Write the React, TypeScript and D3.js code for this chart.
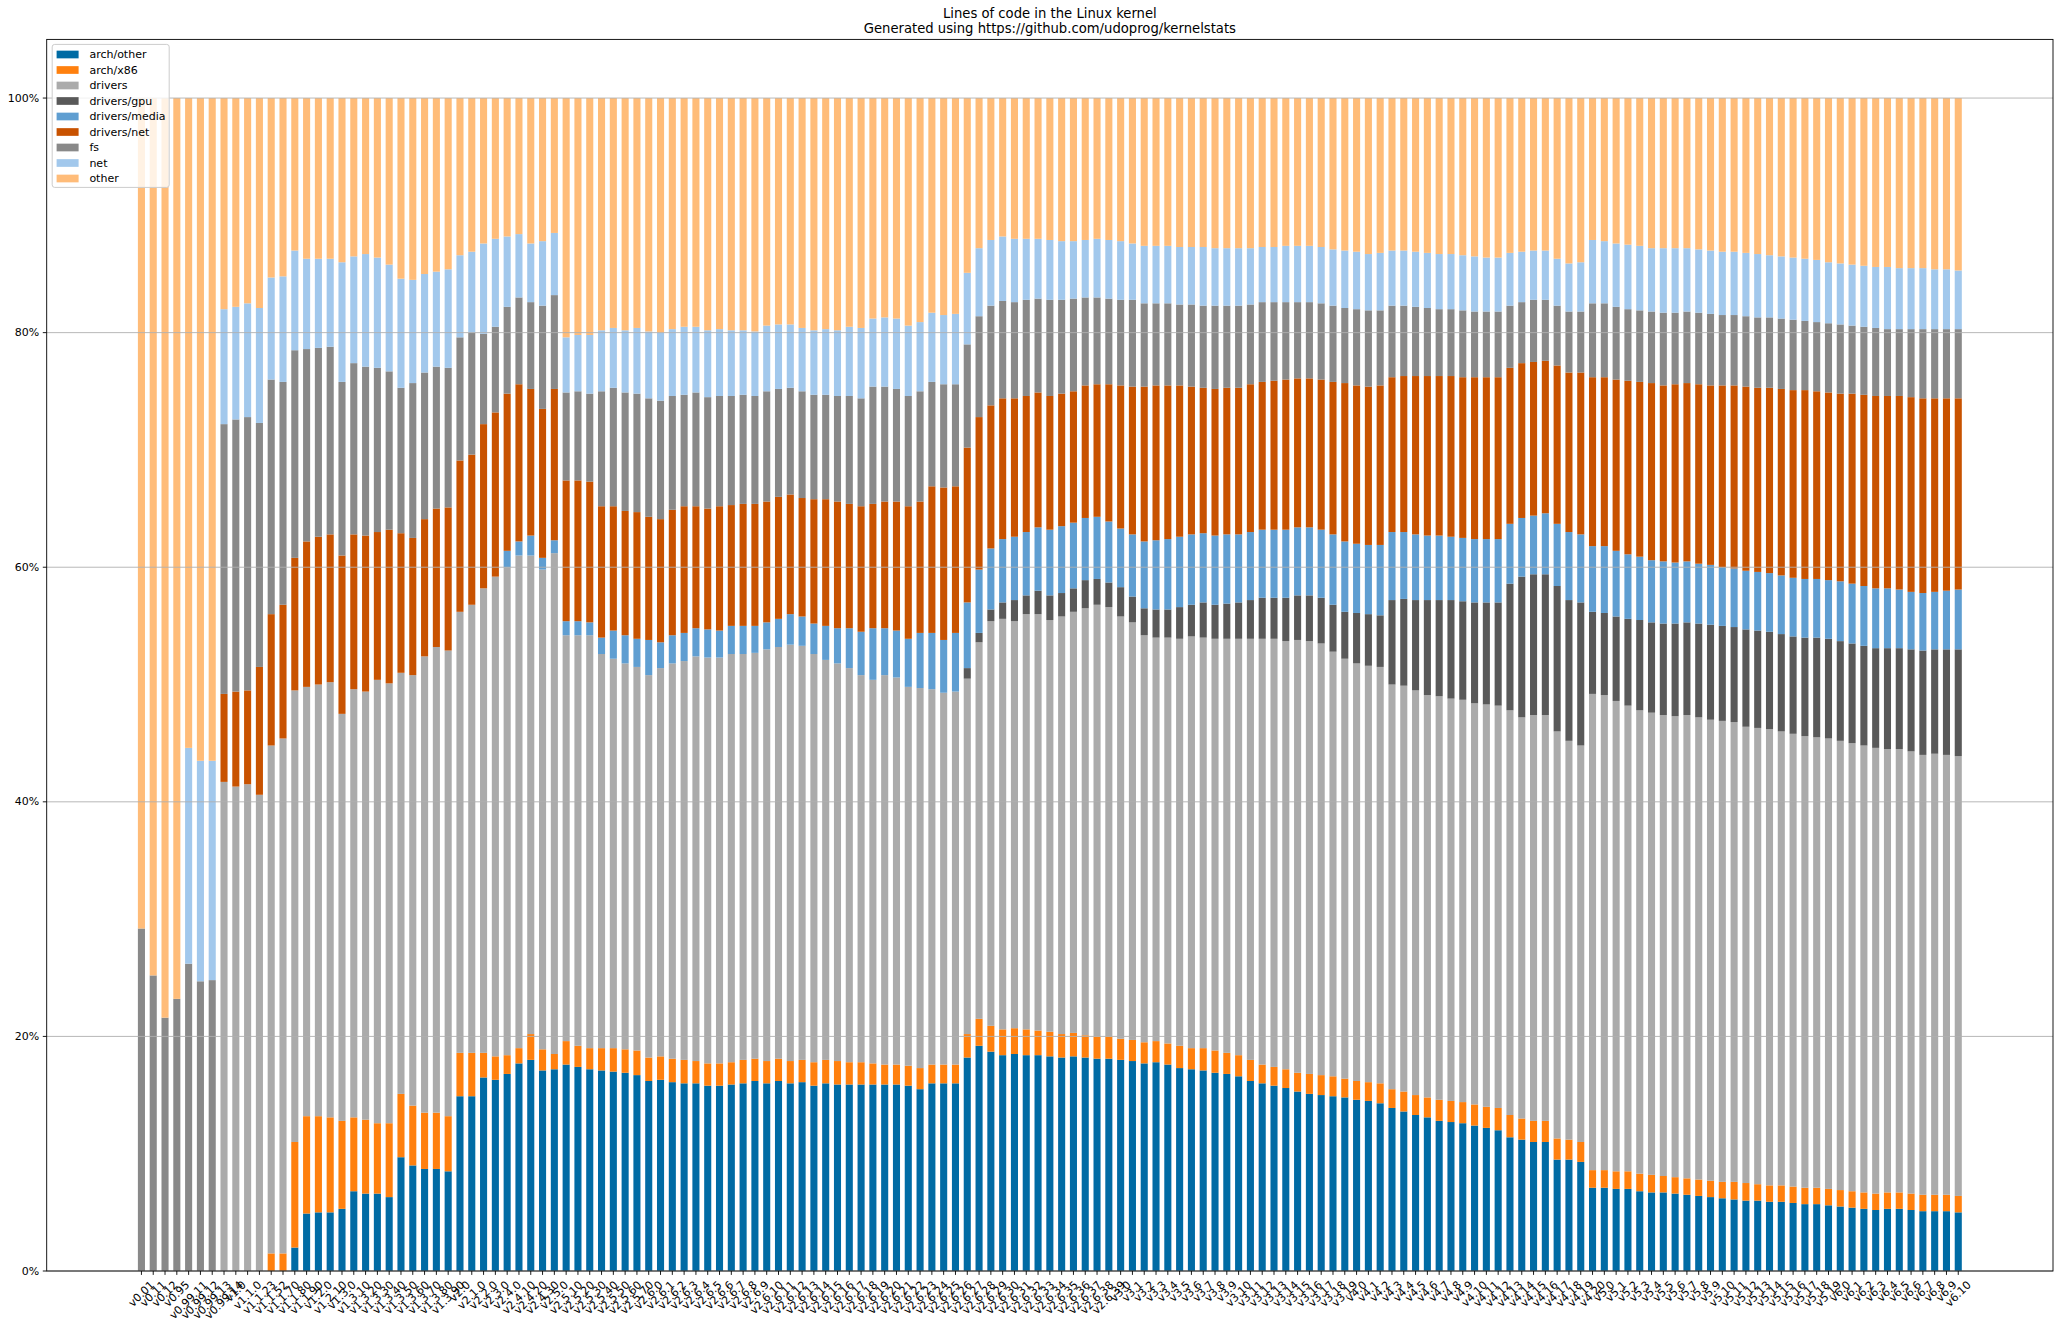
import React from "react";
import * as d3 from "d3";

const versions = [
  "v0.01","v0.11","v0.12","v0.95","v0.99.11","v0.99.12","v0.99.13","v0.99.14","v1.0","v1.1.0",
  "v1.1.23","v1.1.52","v1.1.70","v1.1.80","v1.1.90","v1.2.0","v1.2.10","v1.3.0","v1.3.10","v1.3.20",
  "v1.3.30","v1.3.40","v1.3.50","v1.3.60","v1.3.70","v1.3.80","v1.3.90","v2.0","v2.1.0","v2.2.0",
  "v2.3.0","v2.4.0","v2.4.10","v2.4.20","v2.4.30","v2.5.0","v2.5.10","v2.5.20","v2.5.30","v2.5.40",
  "v2.5.50","v2.5.60","v2.5.70","v2.6.0","v2.6.1","v2.6.2","v2.6.3","v2.6.4","v2.6.5","v2.6.6",
  "v2.6.7","v2.6.8","v2.6.9","v2.6.10","v2.6.11","v2.6.12","v2.6.13","v2.6.14","v2.6.15","v2.6.16",
  "v2.6.17","v2.6.18","v2.6.19","v2.6.20","v2.6.21","v2.6.22","v2.6.23","v2.6.24","v2.6.25","v2.6.26",
  "v2.6.27","v2.6.28","v2.6.29","v2.6.30","v2.6.31","v2.6.32","v2.6.33","v2.6.34","v2.6.35","v2.6.36",
  "v2.6.37","v2.6.38","v2.6.39","v3.0","v3.1","v3.2","v3.3","v3.4","v3.5","v3.6",
  "v3.7","v3.8","v3.9","v3.10","v3.11","v3.12","v3.13","v3.14","v3.15","v3.16",
  "v3.17","v3.18","v3.19","v4.0","v4.1","v4.2","v4.3","v4.4","v4.5","v4.6",
  "v4.7","v4.8","v4.9","v4.10","v4.11","v4.12","v4.13","v4.14","v4.15","v4.16",
  "v4.17","v4.18","v4.19","v4.20","v5.0","v5.1","v5.2","v5.3","v5.4","v5.5",
  "v5.6","v5.7","v5.8","v5.9","v5.10","v5.11","v5.12","v5.13","v5.14","v5.15",
  "v5.16","v5.17","v5.18","v5.19","v6.0","v6.1","v6.2","v6.3","v6.4","v6.5",
  "v6.6","v6.7","v6.8","v6.9","v6.10",
];

// percentage of lines per area, per version
const archOther = [
  0,0,0,0,0,0,0,0,0,0,
  0,0,0,2.0,4.9,5.0,5.0,5.3,6.8,6.6,
  6.6,6.3,9.7,9.0,8.7,8.7,8.5,14.9,14.9,16.5,
  16.3,16.8,17.7,18.0,17.1,17.2,17.6,17.4,17.2,17.1,
  17.0,16.9,16.7,16.2,16.3,16.1,16.0,16.0,15.8,15.8,
  15.9,16.0,16.2,16.0,16.2,16.0,16.1,15.8,16.0,15.9,
  15.9,15.9,15.9,15.9,15.9,15.8,15.5,16.0,16.0,16.0,
  18.2,19.2,18.7,18.4,18.5,18.4,18.4,18.3,18.2,18.3,
  18.2,18.1,18.1,18.0,17.9,17.7,17.8,17.6,17.3,17.2,
  17.1,16.9,16.8,16.6,16.2,16.0,15.8,15.6,15.3,15.1,
  15.0,14.9,14.8,14.6,14.5,14.3,13.9,13.6,13.3,13.1,
  12.8,12.7,12.6,12.4,12.2,12.0,11.4,11.2,11.0,11.0,
  9.5,9.5,9.3,7.1,7.1,7.0,7.0,6.8,6.7,6.7,
  6.6,6.5,6.4,6.3,6.2,6.1,6.0,6.0,5.9,5.9,
  5.8,5.7,5.7,5.6,5.5,5.4,5.3,5.2,5.3,5.3,
  5.2,5.1,5.1,5.1,5.0,
];

const archX86 = [
  0,0,0,0,0,0,0,0,0,0,
  0,1.5,1.5,9.0,8.3,8.2,8.1,7.5,6.3,6.3,
  6.0,6.3,5.4,5.1,4.8,4.8,4.7,3.7,3.7,2.1,
  2.0,1.6,1.3,2.2,1.8,1.3,2.0,1.8,1.8,1.9,
  2.0,2.0,2.1,2.0,2.0,2.0,2.0,1.9,1.9,1.9,
  1.9,2.0,1.9,1.9,1.9,1.9,1.9,2.0,2.0,2.0,
  1.9,1.9,1.8,1.7,1.7,1.7,1.8,1.6,1.6,1.6,
  2.0,2.3,2.2,2.2,2.2,2.2,2.1,2.1,2.0,2.0,
  1.9,1.9,1.9,1.8,1.8,1.8,1.8,1.8,1.9,1.8,
  1.9,1.9,1.8,1.8,1.8,1.6,1.6,1.6,1.6,1.7,
  1.7,1.7,1.6,1.6,1.6,1.7,1.6,1.7,1.7,1.7,
  1.8,1.8,1.8,1.8,1.8,1.9,1.9,1.8,1.8,1.8,
  1.8,1.7,1.7,1.5,1.5,1.5,1.5,1.5,1.5,1.4,
  1.4,1.4,1.4,1.4,1.4,1.5,1.5,1.4,1.4,1.4,
  1.4,1.4,1.4,1.4,1.4,1.4,1.4,1.4,1.4,1.4,
  1.4,1.4,1.4,1.4,1.4,
];

const drivers = [
  0,0,0,0,0,0,0,41.7,41.3,41.5,
  40.6,43.3,43.9,38.5,36.6,36.8,37.1,34.7,36.5,36.5,
  37.8,37.5,35.9,36.7,38.9,39.7,39.7,37.6,38.2,39.6,
  40.9,41.6,42.0,40.8,40.9,42.7,34.6,35.0,35.2,33.6,
  33.2,32.9,32.7,32.6,33.1,33.7,34.0,34.5,34.6,34.6,
  34.8,34.6,34.6,35.1,35.1,35.5,35.3,34.8,34.1,33.9,
  33.6,33.0,32.7,33.2,33.0,32.3,32.4,32.0,31.7,31.8,
  30.3,32.1,34.5,35.0,34.7,35.4,35.5,35.1,35.6,35.9,
  36.4,36.8,36.6,36.0,35.6,34.7,34.4,34.6,34.7,35.1,
  35.0,35.1,35.3,35.5,35.9,36.3,36.5,36.5,36.9,36.9,
  36.8,36.2,35.8,35.6,35.5,35.5,34.5,34.6,34.5,34.3,
  34.4,34.3,34.3,34.2,34.3,34.3,34.5,34.2,34.6,34.6,
  34.7,34.0,33.8,40.6,40.5,40.1,39.7,39.5,39.4,39.3,
  39.3,39.5,39.4,39.3,39.3,39.2,38.9,38.9,38.9,38.7,
  38.6,38.5,38.4,38.4,38.3,38.2,38.1,38.0,37.8,37.8,
  37.7,37.5,37.6,37.5,37.5,
];

const driversGpu = [
  0,0,0,0,0,0,0,0,0,0,
  0,0,0,0,0,0,0,0,0,0,
  0,0,0,0,0,0,0,0,0,0,
  0,0,0,0,0,0,0,0,0,0,
  0,0,0,0,0,0,0,0,0,0,
  0,0,0,0,0,0,0,0,0,0,
  0,0,0,0,0,0,0,0,0,0,
  0.9,0.8,1.0,1.4,1.8,1.6,2.0,2.1,2.0,2.0,
  2.4,2.2,2.1,2.5,2.2,2.3,2.4,2.4,2.7,2.7,
  3.0,2.9,3.0,3.1,3.3,3.5,3.5,3.7,3.8,3.9,
  3.9,4.0,4.0,4.3,4.4,4.4,7.2,7.4,7.7,8.1,
  8.2,8.4,8.4,8.6,8.7,8.8,10.8,12.0,12.0,12.0,
  12.4,12.0,12.2,7.0,7.0,7.2,7.4,7.7,7.7,7.8,
  7.9,7.9,8.0,8.1,8.1,8.1,8.3,8.3,8.3,8.3,
  8.3,8.4,8.5,8.5,8.5,8.5,8.5,8.5,8.6,8.6,
  8.7,8.9,8.9,9.0,9.1,
];

const driversMedia = [
  0,0,0,0,0,0,0,0,0,0,
  0,0,0,0,0,0,0,0,0,0,
  0,0,0,0,0,0,0,0,0,0,
  0,1.4,1.2,1.7,1.0,1.1,1.2,1.2,1.1,1.4,
  2.4,2.4,2.4,3.0,2.2,2.4,2.4,2.4,2.4,2.3,
  2.4,2.4,2.3,2.3,2.4,2.6,2.5,2.6,2.9,3.0,
  3.4,3.7,4.4,4.0,4.0,4.1,4.7,4.8,4.5,5.0,
  5.6,5.4,5.2,5.4,5.4,5.4,5.4,5.6,5.7,5.6,
  5.3,5.3,5.2,5.0,5.3,5.7,5.9,6.0,6.0,6.0,
  5.9,5.9,5.9,5.8,5.8,5.8,5.8,5.8,5.8,5.8,
  5.8,6.0,6.0,5.9,5.9,6.0,5.8,5.7,5.6,5.5,
  5.5,5.4,5.4,5.4,5.4,5.4,5.1,5.0,5.0,5.2,
  5.3,5.8,5.8,5.6,5.7,5.6,5.5,5.4,5.3,5.3,
  5.2,5.2,5.1,5.1,5.0,5.0,5.0,5.0,5.0,5.0,
  5.0,5.0,5.0,5.0,5.1,5.1,5.1,5.1,5.1,5.0,
  4.9,4.9,4.9,5.0,5.1,
];

const driversNet = [
  0,0,0,0,0,0,0,7.5,8.1,8.0,
  10.9,11.2,11.4,11.3,12.4,12.6,12.6,13.5,13.2,13.3,
  12.6,13.1,11.9,11.7,11.7,11.8,12.2,12.9,12.8,14.0,
  14.0,13.4,13.4,12.5,12.7,12.9,12.0,12.0,12.0,11.2,
  10.6,10.6,10.8,10.5,10.5,10.7,10.8,10.4,10.3,10.6,
  10.3,10.4,10.4,10.3,10.4,10.2,10.1,10.6,10.8,10.8,
  10.6,10.7,10.6,10.8,11.0,11.3,11.2,12.5,13.0,12.5,
  13.2,13.0,12.2,12.0,11.8,11.6,11.5,11.4,11.3,11.2,
  11.3,11.3,11.7,12.2,12.6,13.2,13.2,13.1,12.9,12.6,
  12.4,12.5,12.5,12.5,12.6,12.6,12.7,12.8,12.7,12.7,
  12.8,13.0,13.5,13.5,13.5,13.6,13.2,13.3,13.5,13.6,
  13.6,13.7,13.7,13.8,13.8,13.8,13.3,13.2,13.1,13.0,
  13.5,13.6,13.8,14.4,14.4,14.6,14.8,14.9,15.1,15.0,
  15.2,15.2,15.3,15.3,15.5,15.6,15.7,15.7,15.8,15.9,
  16.0,16.1,16.0,16.0,16.0,16.2,16.3,16.4,16.4,16.5,
  16.6,16.6,16.5,16.4,16.3,
];

const fs = [
  29.2,25.2,21.6,23.2,26.2,24.7,24.8,23.0,23.2,23.3,
  20.8,20.0,19.0,17.7,16.4,16.1,16.0,14.8,14.6,14.4,
  14.0,13.5,12.4,13.2,12.5,12.1,11.9,10.5,10.4,7.7,
  7.3,7.4,7.4,7.4,8.8,8.0,7.5,7.6,7.5,9.8,
  10.1,10.1,10.1,10.1,10.1,9.7,9.5,9.7,9.5,9.4,
  9.3,9.3,9.2,9.4,9.2,9.1,9.1,8.9,8.9,9.0,
  9.2,9.2,10.0,9.8,9.6,9.4,9.4,8.9,8.8,8.7,
  8.8,8.6,8.5,8.3,8.2,8.2,8.0,8.2,8.0,7.9,
  7.5,7.4,7.3,7.3,7.4,7.1,7.0,7.0,6.9,7.0,
  7.0,7.1,7.0,7.0,6.8,6.8,6.7,6.6,6.5,6.5,
  6.5,6.5,6.4,6.5,6.5,6.4,6.1,6.0,5.9,5.8,
  5.7,5.7,5.7,5.6,5.6,5.6,5.3,5.2,5.3,5.2,
  5.1,5.2,5.2,6.3,6.3,6.2,6.1,6.1,6.1,6.2,
  6.1,6.1,6.1,6.1,6.0,6.0,6.0,6.0,6.0,6.0,
  6.0,5.9,5.9,5.9,5.9,5.8,5.8,5.8,5.7,5.7,
  5.8,5.9,5.9,5.9,5.9,
];

const net = [
  0,0,0,0,18.4,18.8,18.7,9.8,9.6,9.7,
  9.8,8.7,9.0,8.5,7.7,7.6,7.5,10.2,9.1,9.6,
  9.4,9.1,9.3,8.8,8.4,8.1,8.4,7.0,6.9,7.7,
  7.5,6.0,5.4,5.0,5.5,5.3,4.7,4.8,5.0,5.2,
  5.1,5.3,5.6,5.7,5.8,5.7,5.8,5.6,5.7,5.7,
  5.6,5.5,5.5,5.6,5.5,5.4,5.4,5.5,5.6,5.6,
  5.9,6.0,5.8,5.9,6.0,6.0,5.9,5.9,5.9,6.0,
  6.1,5.8,5.6,5.5,5.4,5.2,5.1,5.1,5.0,4.9,
  4.9,5.0,5.0,5.0,4.8,4.9,4.9,4.9,4.9,4.9,
  5.0,4.9,4.9,4.9,4.8,4.7,4.7,4.8,4.8,4.8,
  4.8,4.8,4.9,4.9,4.8,4.9,4.7,4.7,4.7,4.7,
  4.7,4.7,4.7,4.7,4.6,4.6,4.5,4.3,4.2,4.2,
  4.0,4.1,4.2,5.4,5.3,5.4,5.5,5.5,5.4,5.5,
  5.5,5.4,5.4,5.4,5.4,5.4,5.4,5.4,5.3,5.3,
  5.3,5.3,5.3,5.2,5.2,5.2,5.2,5.2,5.3,5.2,
  5.2,5.2,5.1,5.1,5.0,
];

const other = [
  70.8,74.8,78.4,76.8,55.4,56.5,56.5,18.0,17.8,17.5,
  17.9,15.3,15.2,13.0,13.7,13.7,13.7,14.0,13.5,13.3,
  13.6,14.2,15.4,15.5,15.0,14.8,14.6,13.4,13.1,12.4,
  12.0,11.8,11.6,12.4,12.2,11.5,20.4,20.2,20.2,19.8,
  19.6,19.8,19.6,19.9,20.0,19.7,19.5,19.5,19.8,19.7,
  19.8,19.8,19.9,19.4,19.3,19.3,19.6,19.8,19.7,19.8,
  19.5,19.6,18.8,18.7,18.8,19.4,19.1,18.3,18.5,18.4,
  14.9,12.8,12.1,11.8,12.0,12.0,12.0,12.1,12.2,12.2,
  12.1,12.0,12.1,12.2,12.4,12.6,12.6,12.6,12.7,12.7,
  12.7,12.8,12.8,12.8,12.8,12.7,12.7,12.6,12.6,12.6,
  12.7,12.9,13.0,13.1,13.3,13.2,13.0,13.0,13.1,13.2,
  13.3,13.3,13.4,13.5,13.6,13.6,13.2,13.1,13.0,13.0,
  13.7,14.1,14.0,12.1,12.2,12.4,12.5,12.6,12.8,12.8,
  12.8,12.8,12.9,13.0,13.1,13.1,13.2,13.3,13.4,13.5,
  13.6,13.7,13.8,14.0,14.1,14.2,14.3,14.4,14.4,14.5,
  14.5,14.5,14.6,14.6,14.7,
];

const seriesNames = [
  "arch/other", "arch/x86", "drivers", "drivers/gpu", "drivers/media",
  "drivers/net", "fs", "net", "other",
];
const seriesValues = [
  archOther, archX86, drivers, driversGpu, driversMedia, driversNet, fs, net, other,
];
const seriesColors = [
  "#006BA4", "#FF800E", "#ABABAB", "#595959", "#5F9ED1",
  "#C85200", "#898989", "#A2C8EC", "#FFBC79",
];
const yTicks = [0, 20, 40, 60, 80, 100];
const titleLines = [
  "Lines of code in the Linux kernel",
  "Generated using https://github.com/udoprog/kernelstats",
];

const W = 2061;
const H = 1329;
const M = { left: 46.7, right: 2053, top: 39.4, bottom: 1271 };
const FONT = '"DejaVu Sans", "Liberation Sans", sans-serif';

let measureCtx: CanvasRenderingContext2D | null = null;
function textWidth(s: string, size: number) {
  if (!measureCtx) {
    const c = document.createElement("canvas");
    measureCtx = c.getContext("2d");
  }
  if (!measureCtx) return s.length * size * 0.55;
  measureCtx.font = `${size}px "DejaVu Sans"`;
  return measureCtx.measureText(s).width;
}

export default function App() {
  const rows = versions.map((v, i) => {
    const r: any = { version: v };
    seriesNames.forEach((k, j) => (r[k] = seriesValues[j][i]));
    return r;
  });
  const stacked = d3.stack<any>().keys(seriesNames)(rows);

  const x = d3
    .scaleBand<string>()
    .domain(versions)
    .range([M.left, M.right])
    .paddingInner(0.4)
    .paddingOuter(7.73);
  const y = d3.scaleLinear().domain([0, 105]).range([M.bottom, M.top]);

  const tickFont = 11;
  const lineH = tickFont * 1.164;
  const labelTop = M.bottom + 7.5;

  const legendX = 52.2;
  const legendY = 44.4;
  const rowGap = 15.5;

  return (
    <svg
      width={W}
      height={H}
      viewBox={`0 0 ${W} ${H}`}
      style={{ position: "absolute", left: 0, top: 0, display: "block", background: "#fff" }}
      fontFamily={FONT}
    >
      <rect x={0} y={0} width={W} height={H} fill="#fff" />
      {/* title */}
      {titleLines.map((t, i) => (
        <text
          key={t}
          x={(M.left + M.right) / 2}
          y={13.5 + i * 15.3}
          textAnchor="middle"
          dominantBaseline="central"
          fontSize={13.2}
          fill="#000"
        >
          {t}
        </text>
      ))}

      {/* bars */}
      {stacked.map((s, j) => (
        <g key={seriesNames[j]} fill={seriesColors[j]}>
          {s.map((d, i) => {
            const h = y(d[0]) - y(d[1]);
            if (h <= 0) return null;
            return (
              <rect
                key={i}
                x={x(versions[i])}
                y={y(d[1])}
                width={x.bandwidth()}
                height={h}
              />
            );
          })}
        </g>
      ))}

      {/* grid */}
      {yTicks.map((t) => (
        <line
          key={t}
          x1={M.left}
          x2={M.right}
          y1={y(t)}
          y2={y(t)}
          stroke="#b0b0b0"
          strokeWidth={0.9}
        />
      ))}

      {/* frame */}
      <rect
        x={M.left}
        y={M.top}
        width={M.right - M.left}
        height={M.bottom - M.top}
        fill="none"
        stroke="#000"
        strokeWidth={0.9}
      />

      {/* y axis */}
      {yTicks.map((t) => (
        <g key={t}>
          <line x1={M.left - 3.9} x2={M.left} y1={y(t)} y2={y(t)} stroke="#000" strokeWidth={0.9} />
          <text
            x={M.left - 7.5}
            y={y(t)}
            textAnchor="end"
            dominantBaseline="central"
            fontSize={tickFont}
            fill="#000"
          >
            {t}%
          </text>
        </g>
      ))}

      {/* x axis */}
      {versions.map((v) => {
        const cx = (x(v) as number) + x.bandwidth() / 2;
        const w = textWidth(v, tickFont);
        const half = (w + lineH) / (2 * Math.SQRT2);
        return (
          <g key={v}>
            <line x1={cx} x2={cx} y1={M.bottom} y2={M.bottom + 3.9} stroke="#000" strokeWidth={0.9} />
            <text
              transform={`translate(${cx},${labelTop + half}) rotate(-45)`}
              textAnchor="middle"
              dominantBaseline="central"
              fontSize={tickFont}
              fill="#000"
            >
              {v}
            </text>
          </g>
        );
      })}

      {/* legend */}
      <rect
        x={legendX}
        y={legendY}
        width={117}
        height={143}
        rx={2.5}
        fill="#fff"
        fillOpacity={0.8}
        stroke="#cccccc"
        strokeWidth={1}
      />
      {seriesNames.map((n, i) => {
        const cy = 54.5 + i * rowGap;
        return (
          <g key={n}>
            <rect x={56.6} y={cy - 3.85} width={22} height={7.7} fill={seriesColors[i]} />
            <text x={89.4} y={cy} dominantBaseline="central" fontSize={tickFont} fill="#000">
              {n}
            </text>
          </g>
        );
      })}
    </svg>
  );
}
